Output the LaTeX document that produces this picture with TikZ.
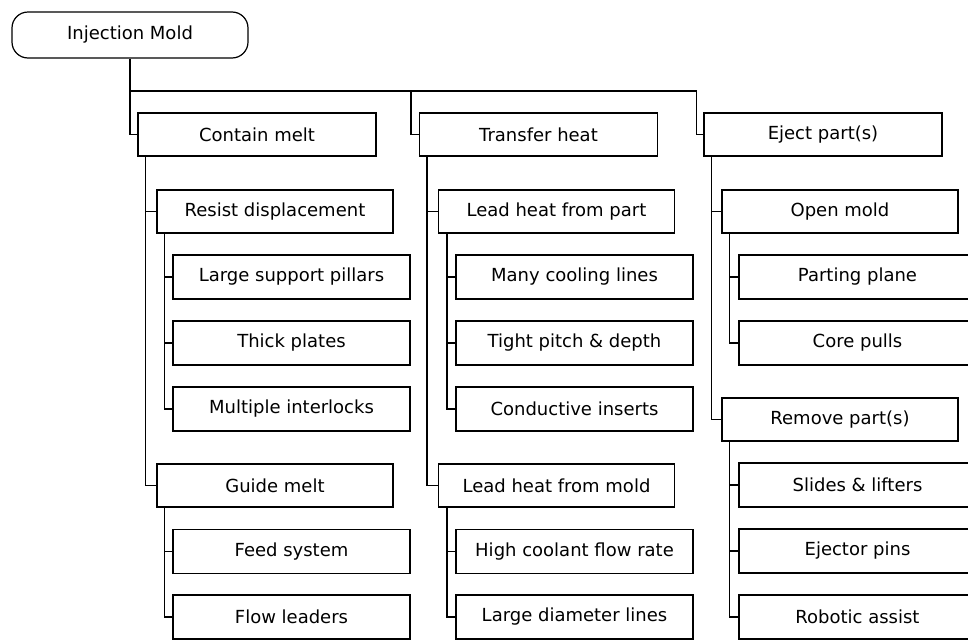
\documentclass[tikz,border=0pt]{standalone}
\usepackage{fontspec}
\setmainfont{DejaVu Sans}
\usepackage{tikz}

\begin{document}
\begin{tikzpicture}[x=1pt, y=-1pt, line width=1.2pt,
    rootbox/.style={shape=rectangle, draw=black, rounded corners=16pt, minimum width=236pt, minimum height=46pt, inner sep=0pt},
    topbox/.style={shape=rectangle, draw=black, minimum width=238pt, minimum height=43pt, inner sep=0pt},
    midbox/.style={shape=rectangle, draw=black, minimum width=236pt, minimum height=43pt, inner sep=0pt},
    leafbox/.style={shape=rectangle, draw=black, minimum width=237pt, minimum height=44pt, inner sep=0pt},
    every node/.style={font=\fontsize{18}{21}\selectfont}]
        \useasboundingbox (0,0) rectangle (968,643);
        \node[rootbox] (IM) at (130,35) {Injection Mold};
        \coordinate (bus) at (0,91);
        \node[topbox] (CM) at (257,134.5) {Contain melt};
        \node[topbox] (TH) at (538.5,134.5) {Transfer heat};
        \node[topbox] (EP) at (823,134.5) {Eject part(s)};
        \node[midbox] (RD) at (275,211.5) {Resist displacement};
        \node[midbox] (GM) at (275,485.5) {Guide melt};
        \node[midbox] (LP) at (556.5,211.5) {Lead heat from part};
        \node[midbox] (LM) at (556.5,485.5) {Lead heat from mold};
        \node[midbox] (OM) at (840,211.5) {Open mold};
        \node[midbox] (RP) at (840,419.5) {Remove part(s)};
        \node[leafbox] (L1) at (291.5,277) {Large support pillars};
        \node[leafbox] (L2) at (291.5,343) {Thick plates};
        \node[leafbox] (L3) at (291.5,409) {Multiple interlocks};
        \node[leafbox] (L4) at (291.5,551.5) {Feed system};
        \node[leafbox] (L5) at (291.5,617) {Flow leaders};
        \node[leafbox] (C1) at (574.5,277) {Many cooling lines};
        \node[leafbox] (C2) at (574.5,343) {Tight pitch \& depth};
        \node[leafbox] (C3) at (574.5,409) {Conductive inserts};
        \node[leafbox] (C4) at (574.5,551.5) {High coolant flow rate};
        \node[leafbox] (C5) at (574.5,617) {Large diameter lines};
        \node[leafbox] (E1) at (857.5,277) {Parting plane};
        \node[leafbox] (E2) at (857.5,343) {Core pulls};
        \node[leafbox] (E3) at (857.5,485) {Slides \& lifters};
        \node[leafbox] (E4) at (857.5,551) {Ejector pins};
        \node[leafbox] (E5) at (857.5,617) {Robotic assist};

        \draw (IM.south) |- (CM.west);
        \draw (IM.south |- bus) -| ([xshift=-7pt]EP.west) -- (EP.west);
        \draw ([xshift=-8pt]TH.west |- bus) |- (TH.west);

        \draw ([xshift=8pt]CM.south west) |- (RD.west);
        \draw ([xshift=8pt]CM.south west) |- (GM.west);
        \draw ([xshift=8pt]TH.south west) |- (LP.west);
        \draw ([xshift=8pt]TH.south west) |- (LM.west);
        \draw ([xshift=8pt]EP.south west) |- (OM.west);
        \draw ([xshift=8pt]EP.south west) |- (RP.west);

        \draw ([xshift=8pt]RD.south west) |- (L1.west);
        \draw ([xshift=8pt]RD.south west) |- (L2.west);
        \draw ([xshift=8pt]RD.south west) |- (L3.west);
        \draw ([xshift=8pt]GM.south west) |- (L4.west);
        \draw ([xshift=8pt]GM.south west) |- (L5.west);
        \draw ([xshift=9pt]LP.south west) |- (C1.west);
        \draw ([xshift=9pt]LP.south west) |- (C2.west);
        \draw ([xshift=9pt]LP.south west) |- (C3.west);
        \draw ([xshift=9pt]LM.south west) |- (C4.west);
        \draw ([xshift=9pt]LM.south west) |- (C5.west);
        \draw ([xshift=8pt]OM.south west) |- (E1.west);
        \draw ([xshift=8pt]OM.south west) |- (E2.west);
        \draw ([xshift=8pt]RP.south west) |- (E3.west);
        \draw ([xshift=8pt]RP.south west) |- (E4.west);
        \draw ([xshift=8pt]RP.south west) |- (E5.west);
    \end{tikzpicture}
\end{document}
